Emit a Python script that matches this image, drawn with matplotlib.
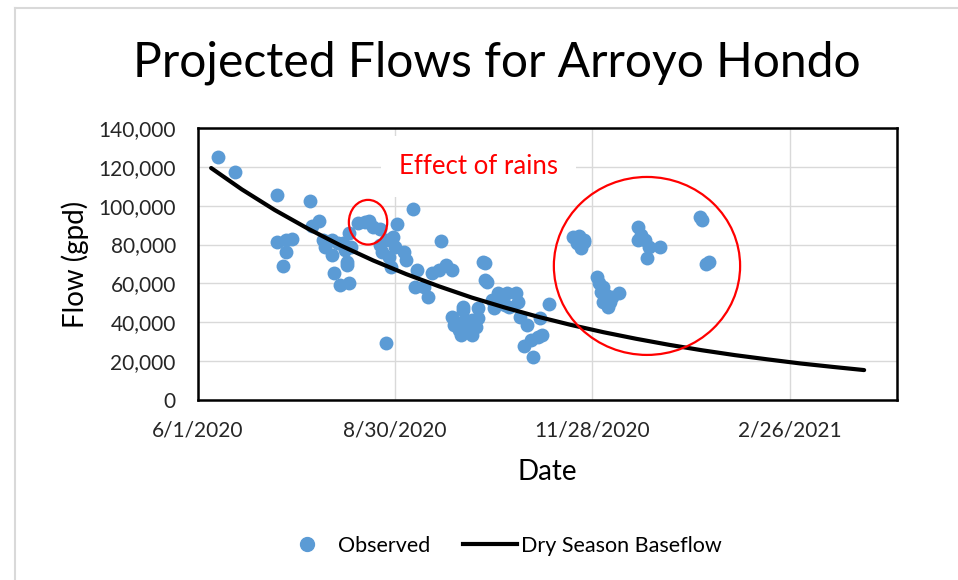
import numpy as np
import matplotlib
matplotlib.use("Agg")
import matplotlib.pyplot as plt
from matplotlib.patches import Ellipse
from matplotlib.lines import Line2D

plt.rcParams['font.family'] = ['Lato', 'DejaVu Sans']

start = np.datetime64('2020-06-01')

# observed flows (days after 6/1/2020, gpd)
obs_days = [9, 17, 36, 36, 40, 43, 40, 39, 51, 55, 52, 57, 61, 64, 58, 61, 67, 68, 62, 65, 69, 70,
            73, 78, 76, 80, 83, 91, 98, 69, 66, 68, 83, 86, 89, 90, 87, 88, 94, 95, 86, 84,
            111, 100, 99, 105, 103, 107, 113, 116, 110,
            130, 131, 132, 131, 116, 119, 121, 122, 120, 125, 127, 128, 128, 124, 117, 125, 121, 119, 123,
            134, 137, 141, 135, 140, 145, 146, 142, 138, 147, 150, 156, 160, 149, 152, 155, 157, 153,
            171, 174, 176, 173, 175, 176, 182, 183, 184, 186, 187, 188, 189, 192, 185, 185,
            201, 202, 201, 204, 206, 205, 211, 229, 230, 233, 232]
obs_flow = [124900, 117300, 105500, 81300, 82300, 83000, 76300, 69100, 102400, 92100, 89600, 82300,
            82300, 80600, 78900, 74600, 77200, 69500, 65500, 59200, 60100, 78600,
            90900, 92300, 91400, 89200, 87900, 90400, 98300, 85800, 80600, 71200, 79800, 82300,
            84000, 78900, 73700, 68600, 76300, 72100, 29500, 76000,
            82000, 66900, 58300, 53200, 58300, 65200, 69500, 66900, 66900,
            71200, 70500, 60900, 62000, 42900, 39500, 46300, 41200, 33500, 33500, 37700, 42000,
            47200, 36900, 38600, 41200, 48000, 36000, 39500,
            51500, 54900, 54900, 47200, 48900, 54900, 50600, 48000, 50600, 42900, 38600, 42000,
            49400, 27800, 30900, 32600, 33500, 22000,
            84000, 84400, 82300, 80600, 78100, 81500, 63500, 60100, 55700, 54000, 48000, 50600,
            53200, 54900, 50600, 58300,
            89200, 84900, 82300, 82300, 78900, 72900, 78900, 94300, 92600, 71200, 69800]

# dry season baseflow curve
base_days = [6, 20, 35, 50, 65, 80, 95, 110, 125, 140, 155, 170, 185, 200, 215, 230, 245, 260, 275, 290, 304]
base_flow = [119400, 108400, 97800, 88300, 79600, 71800, 64800, 58500, 52700, 47600, 42900, 38700,
             34900, 31500, 28400, 25600, 23100, 20900, 18800, 17000, 15400]

tick_days = [0, 90, 180, 270]
tick_labels = ['6/1/2020', '8/30/2020', '11/28/2020', '2/26/2021']
y_ticks = [0, 20000, 40000, 60000, 80000, 100000, 120000, 140000]

blue = '#5B9BD5'

fig = plt.figure(figsize=(9.58, 5.80), dpi=100)
ax = fig.add_axes([198/958, 1 - 400/580, (897 - 198)/958, (400 - 128)/580])

obs_dates = start + np.array(obs_days)
base_dates = start + np.array(base_days)
ax.scatter(obs_dates, obs_flow, s=100, color=blue, linewidths=0, zorder=4)
ax.plot(base_dates, base_flow, color='black', lw=3, solid_capstyle='round', zorder=5)

ax.set_xlim(start, start + np.timedelta64(319, 'D'))
ax.set_ylim(0, 140000)
ax.set_xticks(start + np.array(tick_days))
ax.set_xticklabels(tick_labels)
ax.set_yticks(y_ticks)
ax.set_yticklabels([f'{v:,}' for v in y_ticks])
ax.tick_params(length=0, labelsize=15, colors='#262626')
ax.tick_params(axis='y', pad=16)
ax.tick_params(axis='x', pad=15)
ax.grid(True, color='#D9D9D9', lw=1, zorder=0)
ax.set_axisbelow(True)
for sp in ax.spines.values():
    sp.set_linewidth(1.8)
    sp.set_color('black')

ax.set_xlabel('Date', fontsize=20, labelpad=13)
ax.set_ylabel('Flow (gpd)', fontsize=20, labelpad=7)

# annotations
ax.text(start + np.timedelta64(128, 'D'), 120400, 'Effect of rains', color='red', fontsize=18.5,
        ha='center', va='center', zorder=3,
        bbox=dict(boxstyle='square,pad=0.7', fc='white', ec='none'))
day0 = matplotlib.dates.date2num(start)
ax.add_patch(Ellipse((day0 + 77.6, 91500), 17.5, 23000, fill=False, ec='red', lw=1.6, zorder=6))
ax.add_patch(Ellipse((day0 + 204.9, 69000), 85, 91600, fill=False, ec='red', lw=1.6, zorder=6))

fig.text(497/958, 1 - 63/580, 'Projected Flows for Arroyo Hondo', fontsize=34.6,
         ha='center', va='center')

handles = [Line2D([], [], marker='o', ls='none', ms=10, mfc=blue, mec=blue),
           Line2D([], [], color='black', lw=3)]
fig.legend(handles, ['Observed', 'Dry Season Baseflow'], loc='center', ncol=2,
           bbox_to_anchor=(501/958, 1 - 546/580), frameon=False, fontsize=15.5,
           handlelength=2.5, handletextpad=0.2, columnspacing=1.5)

# chart area border (left and top edges visible)
fig.add_artist(Line2D([15/958, 15/958], [0, 1 - 8/580], color='#D9D9D9', lw=1.5))
fig.add_artist(Line2D([15/958, 1], [1 - 8/580, 1 - 8/580], color='#D9D9D9', lw=1.5))

fig.savefig('out.png', dpi=100)
